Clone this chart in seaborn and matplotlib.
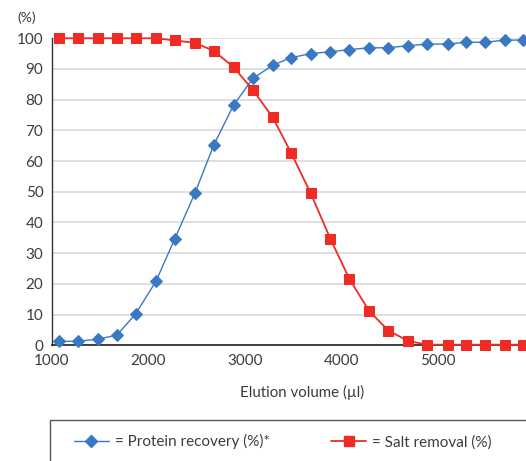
import matplotlib
matplotlib.use('Agg')
import matplotlib.pyplot as plt
import seaborn as sns
import pandas as pd
from matplotlib.lines import Line2D
from matplotlib.patches import Rectangle

# Datos
volumen = [1075, 1270, 1480, 1675, 1870, 2080, 2275, 2485, 2680, 2885, 3085, 3290, 3485,
           3685, 3890, 4085, 4290, 4490, 4695, 4895, 5105, 5300, 5495, 5700, 5890]
recuperacion = [1.3, 1.3, 2.0, 3.3, 10.2, 20.8, 34.6, 49.6, 65.2, 78.2, 86.9, 91.2, 93.7,
                95.0, 95.6, 96.3, 96.9, 96.9, 97.6, 98.1, 98.1, 98.7, 98.7, 99.4, 99.4]
sal = [100, 100, 100, 100, 100, 100, 99.3, 98.5, 95.9, 90.6, 83.2, 74.3, 62.5,
       49.5, 34.6, 21.7, 11.2, 4.8, 1.4, 0.2, 0.2, 0.2, 0.2, 0.2, 0.2]
xticks = [1000, 2000, 3000, 4000, 5000]
yticks = list(range(0, 101, 10))

df = pd.DataFrame({'Volumen': volumen, 'Recuperacion': recuperacion, 'Sal': sal})

azul = '#3a78c2'
rojo = '#ee2b24'

sns.set_style('white')
plt.rcParams['font.family'] = ['Lato', 'DejaVu Sans']

fig = plt.figure(figsize=(5.26, 4.61), dpi=100)
ax = fig.add_axes([0.0983, 0.251, 0.9017, 0.666])

sns.lineplot(data=df, x='Volumen', y='Recuperacion', ax=ax, color=azul, marker='D',
             markersize=6, markeredgecolor=azul, linewidth=1.0, clip_on=False, zorder=3)
sns.lineplot(data=df, x='Volumen', y='Sal', ax=ax, color=rojo, marker='s',
             markersize=6.7, markeredgecolor=rojo, linewidth=1.3, clip_on=False, zorder=4)

ax.set_xlim(1000, 5917)
ax.set_ylim(0, 100)
ax.set_xticks(xticks)
ax.set_yticks(yticks)
ax.yaxis.grid(True, color='#d9d9d9', linewidth=1.2)
ax.set_axisbelow(True)
for s in ['top', 'right']:
    ax.spines[s].set_visible(False)
ax.spines['left'].set_color('#333333')
ax.spines['bottom'].set_color('#222222')
ax.spines['left'].set_linewidth(1.0)
ax.spines['bottom'].set_linewidth(1.2)
ax.tick_params(axis='both', direction='out', length=4, width=1, color='#333333',
               labelsize=11, labelcolor='#3c3c3c', pad=2)
ax.set_xlabel('')
ax.set_ylabel('')

fig.text(27 / 526, 1 - 18 / 461, '(%)', ha='center', va='center', fontsize=10, color='#3c3c3c')
fig.text(302 / 526, 1 - 392 / 461, 'Elution volume (µl)', ha='center', va='center',
         fontsize=10.8, color='#3c3c3c')

# Caja de la leyenda (cortada por el borde)
fig.patches.append(Rectangle((50 / 526, -0.2), 1.0, 0.2 + (461 - 419.5) / 461,
                             transform=fig.transFigure, fill=False, edgecolor='#555555',
                             linewidth=1.0))

handles = [Line2D([], [], color=azul, marker='D', markersize=6, linewidth=1.0),
           Line2D([], [], color=rojo, marker='s', markersize=6.7, linewidth=1.3)]
fig.legend(handles, ['= Protein recovery (%)*', '= Salt removal (%)'], ncol=2,
           frameon=False, loc='center left', bbox_to_anchor=(60 / 526, 1 - 441.7 / 461),
           fontsize=11, handlelength=2.3, handletextpad=0.4, columnspacing=4.0,
           labelcolor='#3c3c3c')

plt.savefig('out.png', dpi=100)
